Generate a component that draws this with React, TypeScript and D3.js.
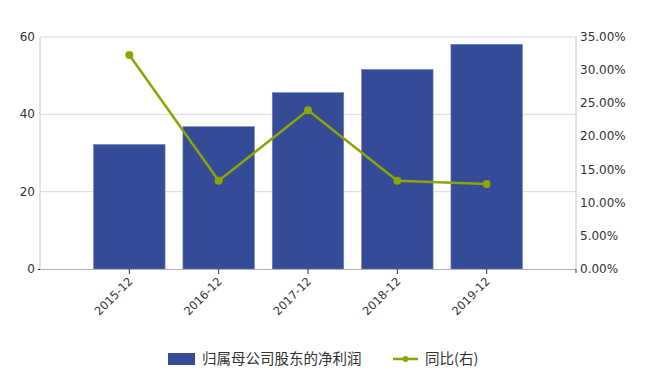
import React from "react";
import * as d3 from "d3";

const categories = ["2015-12", "2016-12", "2017-12", "2018-12", "2019-12"];
const profit = [32.2, 36.8, 45.6, 51.6, 58.1];
const yoy = [32.28, 13.32, 23.94, 13.3, 12.82];
const leftTicks = [0, 20, 40, 60];
const rightTicks = [0, 5, 10, 15, 20, 25, 30, 35];
const seriesNames = ["归属母公司股东的净利润", "同比(右)"];

const W = 670, H = 384;
const L = 40, R = 576, T = 37, B = 269;
const barColor = "#344b97";
const lineColor = "#8ca500";
const font = "'DejaVu Sans', Verdana, sans-serif";

export default function App() {
  const x = d3.scaleLinear().domain([0, categories.length + 1]).range([L, R]);
  const yL = d3.scaleLinear().domain([0, 60]).range([B, T]);
  const yR = d3.scaleLinear().domain([0, 35]).range([B, T]);
  const step = x(1) - x(0);
  const bw = step * 0.8;
  const line = d3
    .line<number>()
    .x((_, i) => x(i + 1))
    .y((d) => yR(d));

  return (
    <svg width={W} height={H} style={{ position: "absolute", left: 0, top: 0, background: "#fff" }}>
      {leftTicks.slice(1).map((t) => (
        <line key={t} x1={L} x2={R} y1={yL(t)} y2={yL(t)} stroke="#d9d9d9" strokeWidth={1} />
      ))}
      <line x1={L} x2={L} y1={T} y2={B} stroke="#c8c8c8" />
      <line x1={R} x2={R} y1={T} y2={B} stroke="#c8c8c8" />
      {profit.map((v, i) => (
        <rect
          key={i}
          x={x(i + 1) - bw / 2}
          y={yL(v)}
          width={bw}
          height={B - yL(v)}
          fill={barColor}
          stroke="#6f7fb8"
          strokeWidth={0.6}
        />
      ))}
      <line x1={L} x2={R} y1={B + 0.5} y2={B + 0.5} stroke="#b0b0b0" />
      {categories.map((c, i) => (
        <g key={c}>
          <line x1={x(i + 1)} x2={x(i + 1)} y1={B} y2={B + 5} stroke="#333" />
          <text
            transform={`translate(${x(i + 1) + 4},${B + 13}) rotate(-45)`}
            textAnchor="end"
            fontFamily={font}
            fontSize={11.5}
            fill="#333"
          >
            {c}
          </text>
        </g>
      ))}
      <line x1={L - 2} x2={L} y1={B + 0.5} y2={B + 0.5} stroke="#333" />
      <line x1={R} x2={R} y1={B} y2={B + 4} stroke="#333" />
      {leftTicks.map((t) => (
        <text key={t} x={L - 5} y={yL(t) + 4} textAnchor="end" fontFamily={font} fontSize={12} fill="#333">
          {t}
        </text>
      ))}
      {rightTicks.map((t) => (
        <text key={t} x={R + 4} y={yR(t) + 4} textAnchor="start" fontFamily={font} fontSize={12} fill="#333">
          {t.toFixed(2) + "%"}
        </text>
      ))}
      <path d={line(yoy) || ""} fill="none" stroke={lineColor} strokeWidth={2.5} />
      {yoy.map((v, i) => (
        <circle key={i} cx={x(i + 1)} cy={yR(v)} r={4} fill={lineColor} />
      ))}
      <rect x={168} y={353} width={27} height={12} fill={barColor} />
      <text x={202} y={364} fontFamily="'Noto Sans CJK SC', sans-serif" fontSize={14.5} fill="#333">
        {seriesNames[0]}
      </text>
      <line x1={393} x2={418} y1={359} y2={359} stroke={lineColor} strokeWidth={2.5} />
      <circle cx={405.5} cy={359} r={3} fill={lineColor} />
      <text x={425} y={364} fontFamily="'Noto Sans CJK SC', sans-serif" fontSize={14.5} fill="#333">
        {seriesNames[1]}
      </text>
    </svg>
  );
}
